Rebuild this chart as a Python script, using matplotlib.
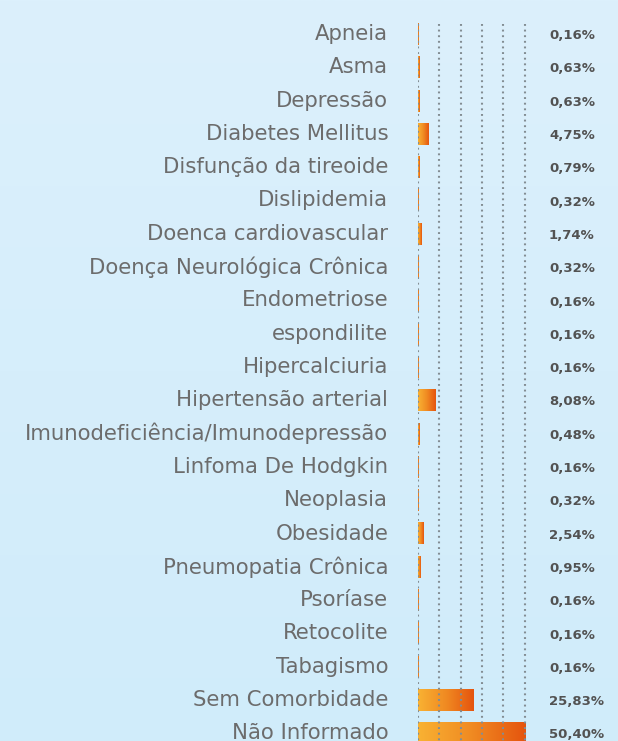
import numpy as np
import matplotlib
matplotlib.use("Agg")
import matplotlib.pyplot as plt
from matplotlib.colors import LinearSegmentedColormap

categories = ["Apneia", "Asma", "Depressão", "Diabetes Mellitus", "Disfunção da tireoide",
              "Dislipidemia", "Doenca cardiovascular", "Doença Neurológica Crônica",
              "Endometriose", "espondilite", "Hipercalciuria", "Hipertensão arterial",
              "Imunodeficiência/Imunodepressão", "Linfoma De Hodgkin", "Neoplasia",
              "Obesidade", "Pneumopatia Crônica", "Psoríase", "Retocolite", "Tabagismo",
              "Sem Comorbidade", "Não Informado"]
values = [0.16, 0.63, 0.63, 4.75, 0.79, 0.32, 1.74, 0.32, 0.16, 0.16, 0.16, 8.08,
          0.48, 0.16, 0.32, 2.54, 0.95, 0.16, 0.16, 0.16, 25.83, 50.40]
grid_ticks = [0, 10, 20, 30, 40, 50]

W, H = 618, 741
fig = plt.figure(figsize=(W / 100, H / 100), dpi=100)

# background gradient
bg = fig.add_axes([0, 0, 1, 1])
bg_cmap = LinearSegmentedColormap.from_list("bg", ["#D0ECFA", "#DCF0FC"])
bg.imshow(np.linspace(0, 1, 256).reshape(-1, 1), aspect="auto", cmap=bg_cmap,
          extent=(0, 1, 0, 1), origin="lower")
bg.axis("off")

# main axes: x0 at 418px, 2.13 px per %, rows every 33.3px starting at y=34
x0_px, px_per = 418, 2.13
row0, row_h = 34, 33.3
xmax = 60
top_px = row0 - 0.5 * row_h
bot_px = row0 + (len(categories) - 0.5) * row_h
ax = fig.add_axes([x0_px / W, (H - bot_px) / H, xmax * px_per / W, (bot_px - top_px) / H])
ax.axis("off")

bar_cmap = LinearSegmentedColormap.from_list("bar", ["#F9B233", "#F08A22", "#E5540E"])
grad = np.linspace(0, 1, 256).reshape(1, -1)
half = 0.33
for i, v in enumerate(values):
    ax.imshow(grad, cmap=bar_cmap, aspect="auto", extent=(0, v, i + half, i - half),
              interpolation="bilinear", zorder=2)
    ax.text(-14, i, categories[i], ha="right", va="center", fontsize=15.3,
            family="DejaVu Sans", color="#6c6c6c", clip_on=False)
    ax.text(61.5, i + 0.05, f"{v:.2f}".replace(".", ",") + "%", ha="left", va="center",
            fontsize=9.5, fontweight="bold", family="DejaVu Sans", color="#525252",
            clip_on=False)

ax.vlines(grid_ticks, -0.3, len(categories), colors="#838D93", linestyles=(0, (0.9, 1.8)),
          linewidth=1.5, zorder=3)
ax.set_xlim(0, xmax)
ax.set_ylim(len(categories) - 0.5, -0.5)

fig.savefig("out.png", dpi=100)
